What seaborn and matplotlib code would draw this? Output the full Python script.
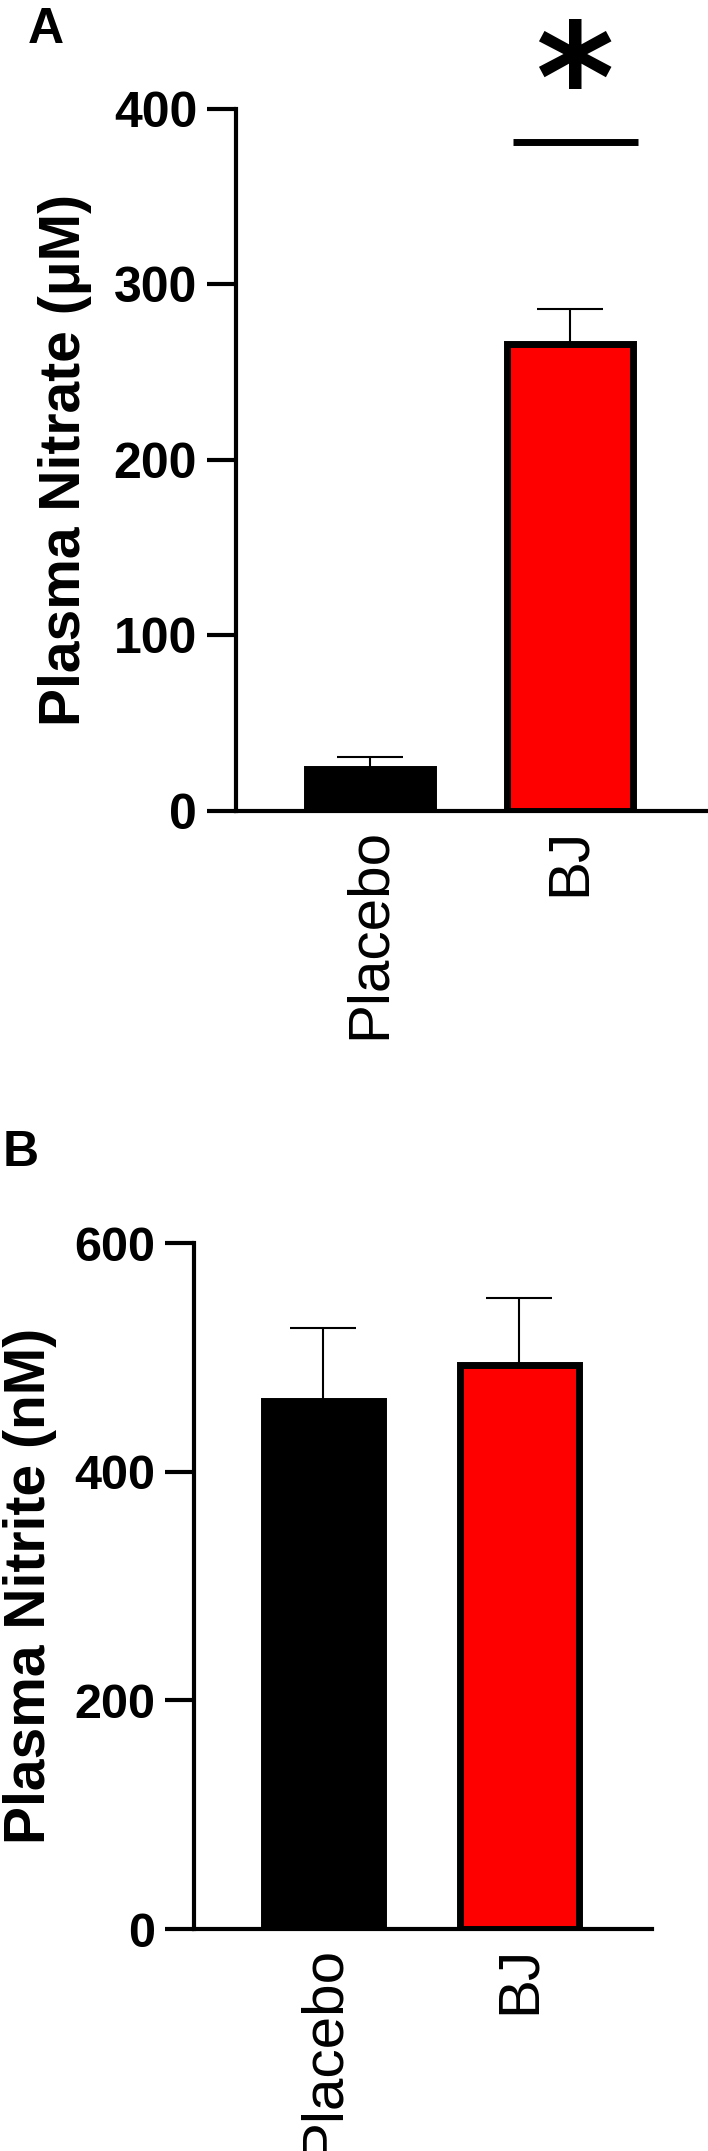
import numpy as np
import pandas as pd
import matplotlib
matplotlib.use("Agg")
import matplotlib.pyplot as plt
import seaborn as sns

# --- Data ---
groups = ["Placebo", "BJ"]
nitrate_mean = [24, 266]      # uM
nitrate_sem = [6.5, 20]
nitrite_mean = [462, 493]     # nM
nitrite_sem = [64, 59]

C_PLACEBO = "#000000"
C_BJ = "#FF0000"

# --- Config ---
sns.set_style("ticks")
plt.rcParams.update({
    "font.family": ["Liberation Sans", "DejaVu Sans"],
    "axes.spines.top": False,
    "axes.spines.right": False,
    "axes.linewidth": 3,
    "axes.edgecolor": "black",
    "axes.labelcolor": "black",
    "text.color": "black",
    "xtick.color": "black",
    "ytick.color": "black",
})

fig = plt.figure(figsize=(7.08, 21.51), dpi=100)
ax_a = fig.add_axes([0.3333, 0.6230, 0.6667, 0.3264])
ax_b = fig.add_axes([0.2740, 0.1032, 0.6469, 0.3189])


def draw_panel(ax, means, sems, width, ylim, yticks, ylabel, label_x, tick_fs):
    df = pd.DataFrame({"Group": groups, "Value": means})
    sns.barplot(data=df, x="Group", y="Value", hue="Group", palette=[C_PLACEBO, C_BJ],
                saturation=1, legend=False, errorbar=None, width=width,
                edgecolor="black", linewidth=5, ax=ax, zorder=3)
    ax.errorbar(range(len(groups)), means, yerr=[np.zeros(len(sems)), sems],
                fmt="none", ecolor="black", elinewidth=1.5, capsize=24,
                capthick=1.5, zorder=2)
    ax.set_ylim(*ylim)
    ax.set_yticks(yticks)
    ax.set_xlabel("")
    ax.set_ylabel(ylabel, fontsize=41, fontweight="bold")
    ax.yaxis.set_label_coords(label_x, 0.5)
    ax.tick_params(axis="y", length=21, width=3, pad=7, labelsize=tick_fs)
    for t in ax.get_yticklabels():
        t.set_fontweight("bold")
    ax.tick_params(axis="x", length=0, pad=12, labelsize=42, labelrotation=90)
    ax.grid(False)


# --- Panel A: plasma nitrate ---
draw_panel(ax_a, nitrate_mean, nitrate_sem, 0.63, (0, 400), [0, 100, 200, 300, 400],
           "Plasma Nitrate (\u03bcM)", -0.305, 36)
ax_a.set_xlim(-0.67, 1.69)
ax_a.plot([0.7175, 1.3425], [381, 381], color="black", lw=5, solid_capstyle="butt",
          clip_on=False)
ax_a.text(1.02, 411, "*", ha="center", va="center", fontsize=108,
          fontweight="bold", family="DejaVu Sans", clip_on=False)

# --- Panel B: plasma nitrite ---
draw_panel(ax_b, nitrite_mean, nitrite_sem, 0.61, (0, 600), [0, 200, 400, 600],
           "Plasma Nitrite (nM)", -0.30, 35)
ax_b.set_xlim(-0.66, 1.676)

fig.text(28 / 708, 1 - 7 / 2151, "A", ha="left", va="top", fontsize=36, fontweight="bold")
fig.text(3 / 708, 1 - 1130 / 2151, "B", ha="left", va="top", fontsize=36, fontweight="bold")

fig.savefig("out.png", dpi=100)
